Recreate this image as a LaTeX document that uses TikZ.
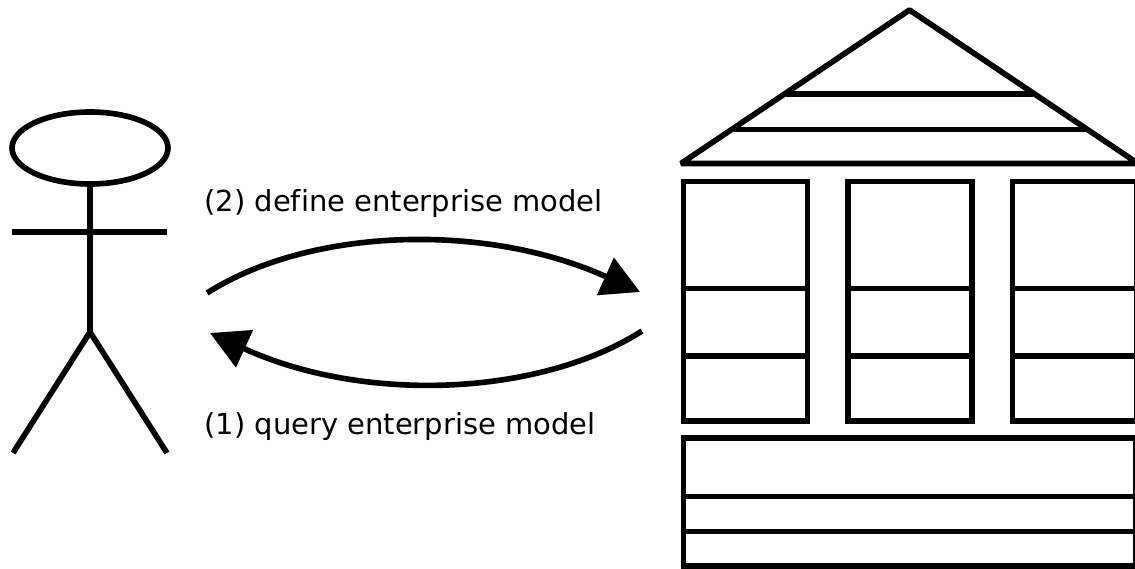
\documentclass[tikz,border=0pt]{standalone}
\usepackage{fontspec}
\setmainfont[Ligatures=NoCommon]{DejaVu Sans}
\usetikzlibrary{arrows.meta,shapes.geometric}
\tikzset{
  stroke/.style={line width=3.2pt},
  cell/.style={draw,stroke,line join=miter,inner sep=0,outer sep=0},
  flow/.style={stroke,-{Triangle[length=0.76cm,width=0.8cm]}},
  caption/.style={anchor=base west,inner sep=0,font=\fontsize{16.5}{20}\selectfont}
}
\begin{document}
\begin{tikzpicture}
      \useasboundingbox (0,0) rectangle (22.7,-11.38);
      % actor
      \node[draw,stroke,ellipse,inner sep=0,outer sep=0,minimum width=3.12cm,minimum height=1.44cm] (head) at (1.8,-2.96) {};
      \coordinate (hip) at (1.8,-6.64);
      \coordinate (armL) at (0.24,-4.64);
      \coordinate (armR) at (3.34,-4.64);
      \coordinate (footL) at (0.26,-9.06);
      \coordinate (footR) at (3.34,-9.06);
      \draw[stroke] (head.south) -- (hip);
      \draw[stroke] (armL) -- (armR);
      \draw[stroke] (footL) -- (hip) -- (footR);
      % roof
      \coordinate (apex) at (18.19,-0.2);
      \coordinate (eaveL) at (13.62,-3.27);
      \coordinate (eaveR) at (22.76,-3.27);
      \coordinate (beamAL) at (15.72,-1.886);
      \coordinate (beamAR) at (20.66,-1.886);
      \coordinate (beamBL) at (14.68,-2.59);
      \coordinate (beamBR) at (21.72,-2.59);
      \draw[stroke,line join=bevel] (apex) -- (eaveL) -- (eaveR) -- cycle;
      \draw[stroke] (beamAL) -- (beamAR);
      \draw[stroke] (beamBL) -- (beamBR);
      % left column
      \node[cell,minimum width=2.48cm,minimum height=2.142cm] (a1) at (14.906,-4.699) {};
      \node[cell,minimum width=2.48cm,minimum height=1.35cm] (a2) at (14.906,-6.445) {};
      \node[cell,minimum width=2.48cm,minimum height=1.298cm] (a3) at (14.906,-7.769) {};
      % middle column
      \node[cell,minimum width=2.48cm,minimum height=2.142cm] (b1) at (18.194,-4.699) {};
      \node[cell,minimum width=2.48cm,minimum height=1.35cm] (b2) at (18.194,-6.445) {};
      \node[cell,minimum width=2.48cm,minimum height=1.298cm] (b3) at (18.194,-7.769) {};
      % right column
      \node[cell,minimum width=2.48cm,minimum height=2.142cm] (c1) at (21.486,-4.699) {};
      \node[cell,minimum width=2.48cm,minimum height=1.35cm] (c2) at (21.486,-6.445) {};
      \node[cell,minimum width=2.48cm,minimum height=1.298cm] (c3) at (21.486,-7.769) {};
      % floor
      \node[cell,minimum width=9.054cm,minimum height=1.168cm] (f1) at (18.194,-9.344) {};
      \node[cell,minimum width=9.054cm,minimum height=0.704cm] (f2) at (18.194,-10.28) {};
      \node[cell,minimum width=9.054cm,minimum height=0.688cm] (f3) at (18.194,-10.976) {};
      % exchange
      \coordinate (defStart) at (4.14,-5.86);
      \coordinate (defEnd) at (12.8,-5.84);
      \coordinate (qryStart) at (12.84,-6.62);
      \coordinate (qryEnd) at (4.2,-6.66);
      \draw[flow] (defStart) .. controls (6.2,-4.55) and (9.7,-4.44) .. (defEnd);
      \draw[flow] (qryStart) .. controls (10.8,-7.92) and (7.3,-8.08) .. (qryEnd);
      \node[caption] (define) at (4.08,-4.24) {(2) define enterprise model};
      \node[caption] (query) at (4.08,-8.68) {(1) query enterprise model};
    \end{tikzpicture}
\end{document}
